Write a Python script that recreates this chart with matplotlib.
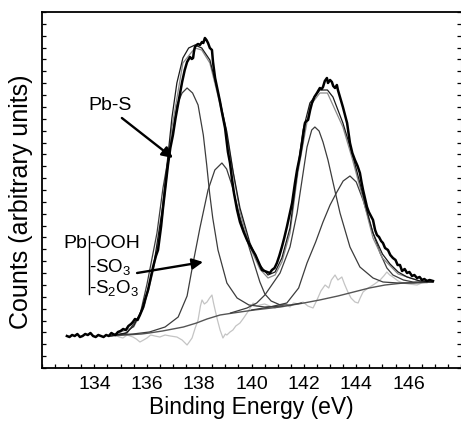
import numpy as np
import matplotlib.pyplot as plt
from matplotlib.ticker import MultipleLocator, FixedLocator, NullFormatter

plt.rcParams['font.family'] = ['Liberation Sans', 'DejaVu Sans']
plt.rcParams['mathtext.default'] = 'regular'

# measured spectrum (Pb 4f region), counts in arbitrary units
raw_ev = [132.95, 133.05, 133.15, 133.25, 133.35, 133.45, 133.55, 133.65, 133.75, 133.85,
          133.95, 134.05, 134.15, 134.25, 134.35, 134.45, 134.55, 134.65, 134.71, 134.8,
          134.9, 135.0, 135.1, 135.2, 135.3, 135.4, 135.47, 135.55, 135.65, 135.74,
          135.85, 135.93, 136.05, 136.15, 136.24, 136.35, 136.43, 136.55, 136.62, 136.7,
          136.81, 136.9, 137.0, 137.1, 137.19, 137.27, 137.35, 137.45, 137.54, 137.65,
          137.72, 137.77, 137.8, 137.84, 137.9, 137.96, 138.03, 138.11, 138.16, 138.22,
          138.28, 138.34, 138.41, 138.49, 138.53, 138.61, 138.72, 138.8, 138.87, 138.99,
          139.1, 139.18, 139.25, 139.33, 139.45, 139.56, 139.7, 139.83, 139.95, 140.06,
          140.15, 140.25, 140.33, 140.4, 140.5, 140.59, 140.7, 140.78, 140.88, 140.97,
          141.06, 141.16, 141.25, 141.35, 141.45, 141.55, 141.66, 141.74, 141.85, 141.93,
          142.04, 142.1, 142.16, 142.24, 142.31, 142.4, 142.5, 142.61, 142.68, 142.73,
          142.8, 142.88, 142.92, 143.0, 143.07, 143.12, 143.19, 143.26, 143.3, 143.38,
          143.49, 143.57, 143.65, 143.76, 143.85, 143.95, 144.05, 144.14, 144.2, 144.26,
          144.33, 144.41, 144.48, 144.56, 144.64, 144.72, 144.79, 144.87, 144.95, 145.02,
          145.1, 145.21, 145.3, 145.4, 145.5, 145.58, 145.67, 145.75, 145.85, 145.94,
          146.03, 146.13, 146.22, 146.32, 146.42, 146.51, 146.6, 146.7, 146.8, 146.93]
raw_counts = [32, 31, 33, 32, 34, 31, 32, 34, 33, 35,
              32, 31, 33, 32, 31, 33, 32, 35, 34, 33,
              36, 37, 39, 38, 42, 44, 46, 49, 48, 53,
              60, 68, 78, 90, 101, 112, 118, 142, 160, 178,
              203, 220, 233, 250, 263, 275, 286, 298, 306, 311,
              309, 310, 316, 321, 323, 324, 323, 326, 325, 330,
              328, 325, 320, 318, 306, 290, 276, 266, 256, 240,
              216, 205, 190, 175, 158, 146, 136, 128, 122, 117,
              113, 107, 102, 98, 97, 96, 95, 98, 100, 105,
              112, 121, 130, 141, 153, 165, 185, 198, 212, 225,
              245, 247, 248, 258, 265, 271, 275, 280, 279, 281,
              287, 290, 285, 288, 286, 282, 280, 283, 278, 271,
              261, 253, 245, 225, 215, 208, 202, 195, 186, 178,
              170, 161, 156, 152, 148, 138, 133, 131, 127, 125,
              120, 118, 113, 110, 108, 103, 103, 97, 99, 95,
              96, 92, 93, 90, 91, 88, 89, 87, 88, 87]

# fit envelope
env_ev = [134.6, 135.2, 135.5, 135.9, 136.25, 136.6, 136.96, 137.15, 137.38, 137.6,
          137.84, 138.1, 138.41, 138.72, 139.06, 139.3, 139.56, 139.94, 140.32, 140.63,
          140.9, 141.16, 141.47, 141.77, 141.97, 142.23, 142.61, 142.9, 143.11, 143.49,
          143.84, 144.14, 144.4, 144.64, 145.0, 145.29, 145.6, 145.94, 146.43, 146.93]
env_counts = [32, 35, 42, 63, 100, 160, 250, 285, 310, 320,
              323, 320, 308, 276, 236, 196, 160, 125, 103, 93,
              96, 110, 140, 200, 238, 265, 278, 278, 271, 245,
              215, 185, 158, 135, 114, 104, 96, 91, 87, 86]

# second (grey) envelope line
env2_ev = [134.6, 135.5, 135.9, 136.25, 136.6, 136.96, 137.38, 137.84, 138.1, 138.41,
           138.72, 139.06, 139.56, 139.94, 140.32, 140.63, 140.9, 141.16, 141.47, 141.77,
           142.23, 142.61, 142.9, 143.49, 143.84, 144.14, 144.64, 145.0, 145.6, 146.43,
           146.93]
env2_counts = [32, 41, 61, 97, 152, 240, 305, 320, 318, 305,
               272, 232, 156, 121, 99, 90, 93, 106, 135, 195,
               262, 275, 275, 241, 210, 181, 130, 110, 94, 87,
               86]

# Pb-S 4f7/2 component
c1_ev = [134.6, 135.25, 135.74, 136.01, 136.39, 136.62, 137.0, 137.15, 137.35, 137.54,
         137.75, 137.96, 138.16, 138.29, 138.4, 138.52, 138.72, 139.06, 139.45, 139.9,
         140.5, 141.2]
c1_counts = [32, 35, 53, 84, 135, 180, 237, 263, 275, 280,
             275, 263, 233, 203, 175, 150, 118, 85, 70, 63,
             61, 62]

# Pb-OOH / SO3 / S2O3 component (4f7/2)
c2_ev = [134.7, 135.47, 136.1, 136.7, 137.2, 137.54, 137.77, 138.03, 138.34, 138.6,
         138.87, 139.05, 139.25, 139.56, 139.94, 140.32, 140.51, 140.75, 141.1, 141.5,
         141.9]
c2_counts = [33, 34, 36, 41, 51, 72, 105, 140, 178, 198,
             205, 199, 183, 151, 118, 86, 74, 67, 63, 63,
             65]

# Pb-S 4f5/2 component
c3_ev = [139.2, 139.83, 140.2, 140.51, 141.09, 141.47, 141.74, 141.93, 142.12, 142.3,
         142.42, 142.58, 142.73, 142.92, 143.11, 143.38, 143.76, 144.14, 144.64, 145.02,
         145.6, 146.2, 146.9]
c3_counts = [55, 60, 65, 73, 95, 121, 155, 188, 221, 238,
             241, 237, 226, 208, 186, 155, 121, 101, 90, 86,
             85, 85, 86]

# Pb-OOH / SO3 / S2O3 component (4f5/2)
c4_ev = [140.0, 140.7, 141.35, 141.8, 142.12, 142.45, 142.73, 143.0, 143.26, 143.5,
         143.76, 144.0, 144.26, 144.64, 144.91, 145.17, 145.4, 145.8, 146.17, 146.9]
c4_counts = [58, 61, 65, 80, 105, 126, 146, 163, 176, 187,
             192, 186, 168, 135, 115, 100, 93, 88, 86, 86]

# Shirley background
bg_ev = [134.6, 135.2, 135.8, 136.1, 136.6, 137.0, 137.4, 137.9, 138.3, 138.8,
         139.3, 140.1, 141.1, 142.0, 142.6, 143.3, 143.9, 144.5, 145.1, 145.8,
         146.9]
bg_counts = [32, 33, 34, 35, 37, 39, 41, 45, 49, 53,
             55, 58, 61, 65, 68, 72, 76, 80, 83, 85,
             86]

# residual
res_ev = [134.79, 134.95, 135.09, 135.25, 135.47, 135.6, 135.74, 135.88, 136.01, 136.15,
          136.31, 136.5, 136.7, 136.9, 137.15, 137.35, 137.54, 137.65, 137.73, 137.85,
          137.96, 138.05, 138.11, 138.2, 138.3, 138.4, 138.49, 138.55, 138.61, 138.7,
          138.8, 138.91, 139.0, 139.06, 139.18, 139.29, 139.4, 139.56, 139.7, 139.83,
          139.95, 140.06, 140.2, 140.32, 140.5, 140.7, 140.9, 141.1, 141.3, 141.47,
          141.6, 141.8, 141.97, 142.15, 142.35, 142.5, 142.65, 142.81, 142.95, 143.05,
          143.19, 143.3, 143.45, 143.55, 143.68, 143.8, 143.95, 144.07, 144.15, 144.26,
          144.4, 144.52, 144.7, 144.91, 145.05, 145.17, 145.28, 145.4, 145.6, 145.78,
          146.0, 146.32, 146.5, 146.7]
res_counts = [33, 31, 30, 33, 31, 29, 26, 28, 30, 33,
              32, 31, 33, 32, 31, 28, 23, 27, 30, 40,
              48, 62, 68, 64, 66, 70, 73, 65, 58, 48,
              38, 30, 34, 33, 36, 38, 42, 45, 50, 55,
              60, 65, 62, 63, 64, 62, 60, 63, 64, 61,
              65, 64, 66, 62, 60, 68, 77, 83, 80, 88,
              93, 88, 91, 84, 76, 70, 66, 65, 70, 76,
              79, 81, 84, 88, 92, 96, 93, 91, 87, 85,
              84, 83, 85, 85]

x_ticks = [134, 136, 138, 140, 142, 144, 146]

fig = plt.figure(figsize=(4.61, 4.25), dpi=100)
ax = fig.add_axes([42 / 461, 57 / 425, 419 / 461, 356 / 425])

ax.plot(res_ev, res_counts, color="#c4c4c4", lw=0.9)
ax.plot(bg_ev, bg_counts, color="#555555", lw=1.0)
for ev, cts in [(c1_ev, c1_counts), (c2_ev, c2_counts), (c3_ev, c3_counts), (c4_ev, c4_counts)]:
    ax.plot(ev, cts, color="#3c3c3c", lw=0.9)
ax.plot(env2_ev, env2_counts, color="#8a8a8a", lw=0.9)
ax.plot(env_ev, env_counts, color="#1a1a1a", lw=0.9)
ax.plot(raw_ev, raw_counts, color="black", lw=1.8)

ax.set_xlim(132, 148)
ax.set_ylim(0, 356)
ax.xaxis.set_major_locator(FixedLocator(x_ticks))
ax.xaxis.set_minor_locator(MultipleLocator(0.5))
ax.yaxis.set_major_locator(MultipleLocator(356 / 30))
ax.yaxis.set_major_formatter(NullFormatter())
ax.tick_params(which="both", direction="in", length=3, width=0.9, top=False, right=True)
ax.tick_params(axis="x", labelsize=14, pad=6)
for t in ax.yaxis.get_major_ticks():
    t.tick2line.set_color("#d0d0d0")
for side in ["left", "bottom", "top"]:
    ax.spines[side].set_linewidth(1.3)
ax.spines["right"].set_color("#d8d8d8")

ax.set_xlabel("Binding Energy (eV)", fontsize=16.5, labelpad=2)
ax.set_ylabel("Counts (arbitrary units)", fontsize=18)
ax.yaxis.set_label_coords(-0.022, 0.466)

# annotations
arrow = dict(arrowstyle="-|>", color="black", lw=1.7, mutation_scale=16, shrinkA=0, shrinkB=0)
ax.text(134.6, 263, "Pb-S", ha="center", va="center", fontsize=14)
ax.annotate("", xy=(137.0, 210), xytext=(135.05, 250), arrowprops=arrow)
ax.text(133.72, 125, "Pb", ha="right", va="center", fontsize=14)
ax.plot([133.8, 133.8], [132, 74], color="black", lw=1.0)
ax.text(133.8, 125, "-OOH", ha="left", va="center", fontsize=14)
ax.text(133.8, 101, "-SO$_3$", ha="left", va="center", fontsize=13.5)
ax.text(133.8, 80, "-S$_2$O$_3$", ha="left", va="center", fontsize=13.5)
ax.annotate("", xy=(138.15, 106), xytext=(135.63, 95), arrowprops=arrow)

plt.savefig("out.png", dpi=100)
plt.close()
